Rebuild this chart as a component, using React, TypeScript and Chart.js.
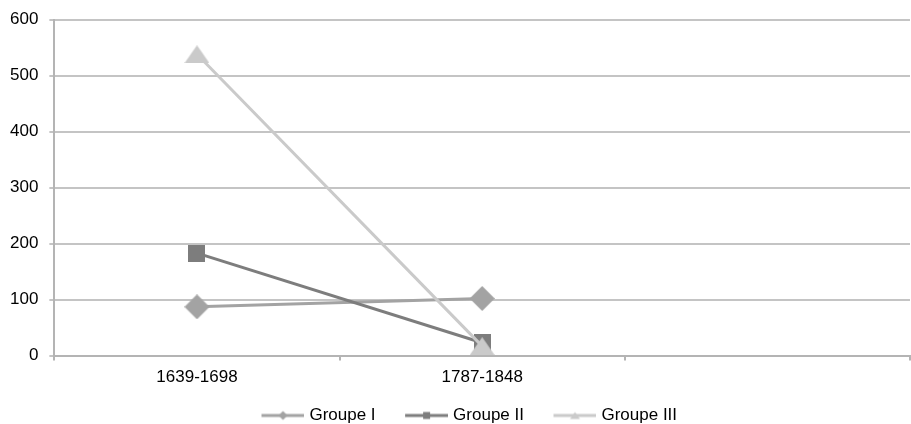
import React, { useEffect, useRef } from "react";
import { Chart, registerables } from "chart.js";

Chart.register(...registerables);

const categories = ["1639-1698", "1787-1848", ""];
const seriesNames = ["Groupe I", "Groupe II", "Groupe III"];
const groupe1 = [87, 102, null];
const groupe2 = [183, 23, null];
const groupe3 = [538, 17, null];
const yMin = 0;
const yMax = 600;
const yStep = 100;

const colors = ["#a3a3a3", "#7d7d7d", "#cacaca"];
const shapes = ["diamond", "square", "triangle"];

function drawShape(ctx: CanvasRenderingContext2D, shape: string, cx: number, cy: number, w: number, h: number) {
  ctx.beginPath();
  if (shape === "diamond") {
    ctx.moveTo(cx, cy - h / 2);
    ctx.lineTo(cx + w / 2, cy);
    ctx.lineTo(cx, cy + h / 2);
    ctx.lineTo(cx - w / 2, cy);
  } else if (shape === "square") {
    ctx.rect(cx - w / 2, cy - h / 2, w, h);
  } else {
    ctx.moveTo(cx, cy - h / 2);
    ctx.lineTo(cx + w / 2, cy + h / 2);
    ctx.lineTo(cx - w / 2, cy + h / 2);
  }
  ctx.closePath();
  ctx.fill();
}

function makeMarker(shape: string, color: string): HTMLCanvasElement {
  const size = shape === "diamond" ? [25, 25] : shape === "square" ? [17, 17] : [25, 18];
  const c = document.createElement("canvas");
  c.width = size[0];
  c.height = size[1];
  const ctx = c.getContext("2d")!;
  ctx.fillStyle = color;
  drawShape(ctx, shape, size[0] / 2, size[1] / 2, size[0], size[1]);
  return c;
}

const ICON_GAP = 33;
const ICON_LINE = 43;
const ICON_W = ICON_GAP + ICON_LINE;

function makeLegendIcon(shape: string, color: string): HTMLCanvasElement {
  const c = document.createElement("canvas");
  c.width = ICON_W;
  c.height = 12;
  const ctx = c.getContext("2d")!;
  ctx.strokeStyle = color;
  ctx.lineWidth = 3;
  ctx.beginPath();
  ctx.moveTo(ICON_GAP, 6);
  ctx.lineTo(ICON_W, 6);
  ctx.stroke();
  ctx.fillStyle = color;
  const cx = ICON_GAP + ICON_LINE / 2;
  const sz = shape === "diamond" ? [9, 9] : shape === "square" ? [7, 7] : [10, 7];
  drawShape(ctx, shape, cx, 6, sz[0], sz[1]);
  return c;
}

export default function App() {
  const ref = useRef<HTMLCanvasElement>(null);

  useEffect(() => {
    if (!ref.current) return;
    const values = [groupe1, groupe2, groupe3];
    const markers = shapes.map((s, i) => makeMarker(s, colors[i]));
    const icons = shapes.map((s, i) => makeLegendIcon(s, colors[i]));

    const chart = new Chart(ref.current, {
      type: "line",
      data: {
        labels: categories,
        datasets: seriesNames.map((name, i) => ({
          label: name,
          data: values[i],
          borderColor: colors[i],
          backgroundColor: colors[i],
          borderWidth: 3,
          pointStyle: markers[i] as any,
          pointRadius: 12,
          pointHoverRadius: 12,
          tension: 0,
          fill: false,
          clip: false as any,
          order: 2 - i,
        })),
      },
      options: {
        responsive: false,
        animation: false,
        events: [],
        font: { family: "'Liberation Sans', Arial, sans-serif", size: 17 } as any,
        layout: { autoPadding: false, padding: { left: -1, right: 1, top: 19, bottom: -10 } },
        plugins: {
          tooltip: { enabled: false },
          legend: {
            position: "bottom",
            labels: {
              usePointStyle: true,
              pointStyleWidth: ICON_W - 7,
              padding: 0,
              color: "#000",
              font: { family: "'Liberation Sans', Arial, sans-serif", size: 17 },
              generateLabels: () =>
                seriesNames.map((name, i) => ({
                  text: name,
                  pointStyle: icons[i] as any,
                  fillStyle: "rgba(0,0,0,0)",
                  strokeStyle: "rgba(0,0,0,0)",
                  lineWidth: 0,
                  hidden: false,
                  datasetIndex: i,
                  fontColor: "#000",
                })),
            },
          },
        },
        scales: {
          x: {
            offset: true,
            grid: {
              display: true,
              drawOnChartArea: false,
              drawTicks: true,
              offset: true,
              tickLength: 5,
              color: "#b4b4b4",
              lineWidth: 2,
            },
            border: { display: true, color: "#b4b4b4", width: 2 },
            ticks: {
              color: "#000",
              padding: 7,
              maxRotation: 0,
              autoSkip: false,
              font: { family: "'Liberation Sans', Arial, sans-serif", size: 17 },
            },
            title: {
              display: true,
              text: "",
              color: "rgba(0,0,0,0)",
              font: { size: 5, lineHeight: 1 },
              padding: { top: 7, bottom: 0 },
            },
          },
          y: {
            min: yMin,
            max: yMax,
            ticks: {
              stepSize: yStep,
              color: "#000",
              padding: 11,
              font: { family: "'Liberation Sans', Arial, sans-serif", size: 17, lineHeight: 1 },
            },
            grid: {
              color: "#c4c4c4",
              lineWidth: 2,
              tickLength: 5,
            },
            border: { display: true, color: "#b4b4b4", width: 2 },
          },
        },
      },
    });
    return () => chart.destroy();
  }, []);

  return (
    <div style={{ position: "absolute", left: 0, top: 0, width: 911, height: 424, background: "#fff" }}>
      <canvas ref={ref} width={911} height={424} style={{ display: "block" }} />
    </div>
  );
}
